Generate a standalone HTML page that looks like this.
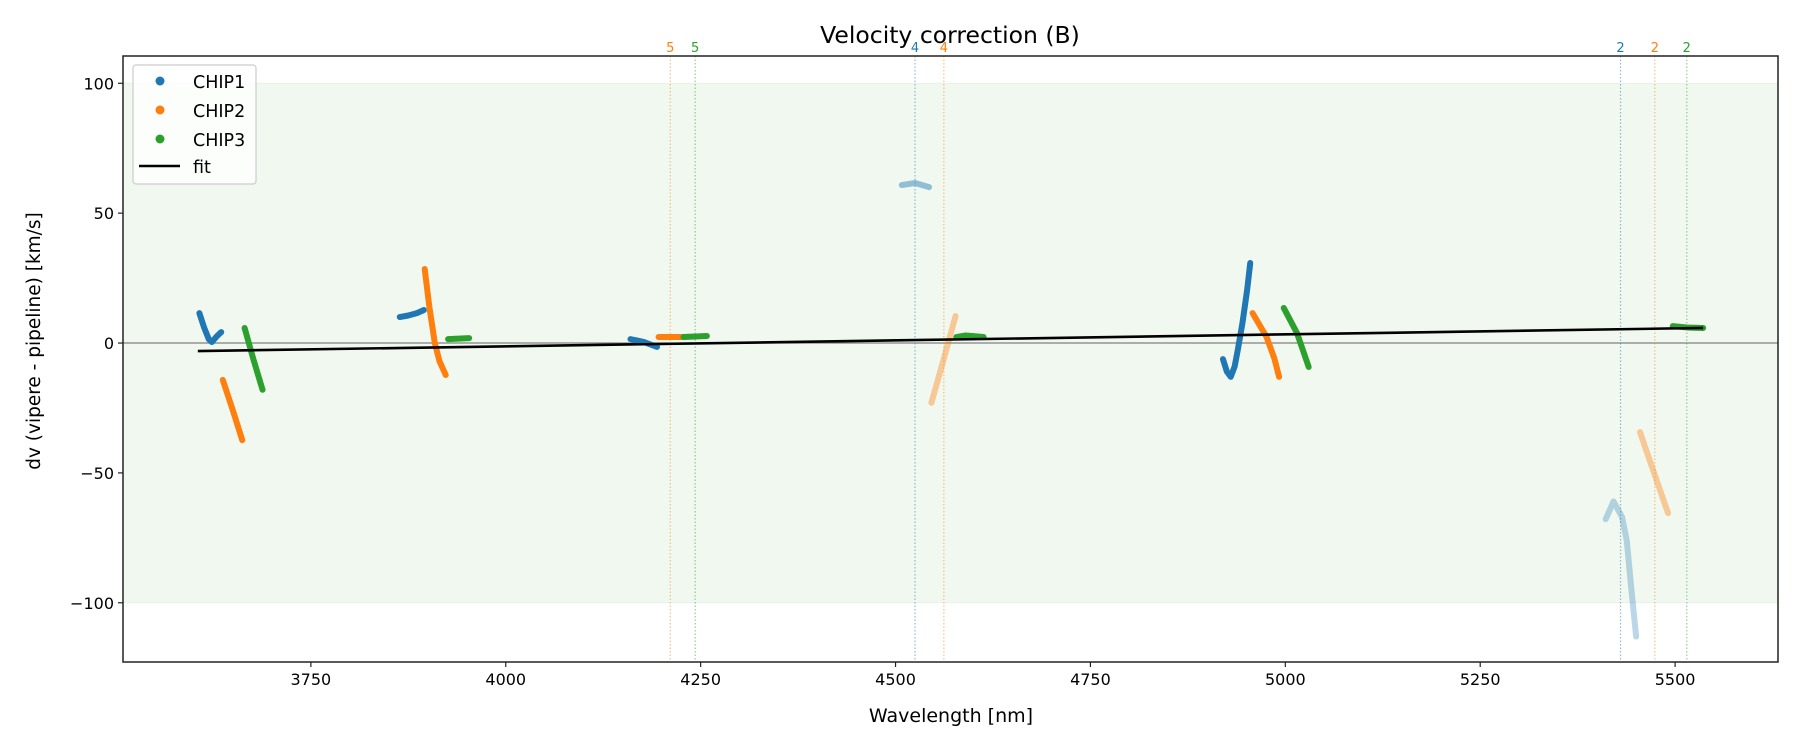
<!DOCTYPE html>
<html><head><meta charset="utf-8"><style>
body{margin:0;background:#fff;width:1800px;height:750px;overflow:hidden}
svg{font-family:"DejaVu Sans","Liberation Sans",sans-serif}
</style></head><body>
<svg id="chart" width="1800" height="750" viewBox="0 0 1800 750" xmlns="http://www.w3.org/2000/svg">
<g id="plot"></g>
</svg>
<script>
// ---- data ----
const xTicks = [3750, 4000, 4250, 4500, 4750, 5000, 5250, 5500];
const yTicks = [-100, -50, 0, 50, 100];
const bandRange = [-100, 100];
const chip1Segments = [
  [[3607,11.5],[3613,6],[3619,1.5],[3623,0.4],[3629,2.5],[3635,4.2]],
  [[3864,10],[3875,10.6],[3886,11.5],[3895,12.7]],
  [[4160,1.5],[4177,0.4],[4194,-1.5]],
  [[4508,60.8],[4525,61.6],[4543,60]],
  [[4920,-6.2],[4925,-11],[4930,-13],[4935,-9],[4939,-2.7],[4945,7.7],[4951,20.4],[4955,30.8]],
  [[5411,-67.8],[5421,-61],[5432,-67],[5438,-76],[5443,-92],[5450,-113]]
];
const chip1Alpha = [1,1,1,0.45,1,0.3];
const chip2Segments = [
  [[3637,-14.2],[3650,-26],[3662,-37.4]],
  [[3896,28.5],[3902,13.9],[3909,0],[3915,-7],[3923,-12.3]],
  [[4196,2.3],[4226,2.3]],
  [[4546,-23],[4562,-6],[4577,10.4]],
  [[4958,11.5],[4976,2.3],[4986,-6],[4992,-13]],
  [[5455,-34.3],[5473,-50],[5491,-65.5]]
];
const chip2Alpha = [1,1,1,0.4,1,0.4];
const chip3Segments = [
  [[3665,5.8],[3676,-6],[3688,-18]],
  [[3926,1.5],[3953,1.9]],
  [[4228,2.3],[4243,2.5],[4258,2.7]],
  [[4578,2.3],[4590,2.9],[4613,2.3]],
  [[4998,13.5],[5015,3.8],[5030,-9.2]],
  [[5497,6.5],[5515,6],[5536,5.8]]
];
const chip3Alpha = [1,1,1,1,1,1];
const fitLine = [[3605,-3.1],[5536,5.8]];
const markerWavelengths = [4211, 4243, 4525, 4562, 5430, 5474, 5515];
const markerLabels = ["5","5","4","4","2","2","2"];
const markerChips = [2,3,1,2,1,2,3];

// ---- layout ----
const L=123,R=1778,T=56,B=662;
const X0=3509,X1=5632,Y0=-122.8,Y1=110.5;
const sx=v=>L+(v-X0)/(X1-X0)*(R-L);
const sy=v=>B-(v-Y0)/(Y1-Y0)*(B-T);
const colors={1:"#1f77b4",2:"#ff7f0e",3:"#2ca02c"};
const NS="http://www.w3.org/2000/svg";
const g=document.getElementById('plot');
function mk(tag,attrs,parent){const e=document.createElementNS(NS,tag);for(const k in attrs)e.setAttribute(k,attrs[k]);(parent||g).appendChild(e);return e;}

const band=mk('rect',{x:L,y:sy(bandRange[1]),width:R-L,height:sy(bandRange[0])-sy(bandRange[1]),fill:"#2ca02c","fill-opacity":0.07,stroke:"#2ca02c","stroke-opacity":0.08});



const zl=mk('line',{x1:L,x2:R,y1:sy(0),y2:sy(0),stroke:"#808080","stroke-width":1.2});



markerWavelengths.forEach((w,i)=>{
  const c=colors[markerChips[i]];
  const ln=mk('line',{x1:sx(w),x2:sx(w),y1:T,y2:B,stroke:c,"stroke-opacity":0.5,"stroke-width":1.2,"stroke-dasharray":"1.5,2"});
  
  
  const t=mk('text',{x:sx(w),y:52,fill:c,"font-size":13,"text-anchor":"middle"});
  t.textContent=markerLabels[i];
  
  
});

function drawChip(segs,alpha,chip){
  segs.forEach((seg,si)=>{
    const grp=mk('g',{opacity:alpha[si]});
    
    
    const pts=seg.map(p=>sx(p[0])+","+sy(p[1])).join(" ");
    const pl=mk('polyline',{points:pts,fill:"none",stroke:colors[chip],"stroke-width":6,"stroke-linecap":"round","stroke-linejoin":"round"},grp);
    
    
  });
}
drawChip(chip1Segments,chip1Alpha,1);
drawChip(chip2Segments,chip2Alpha,2);
drawChip(chip3Segments,chip3Alpha,3);

const fl=mk('line',{x1:sx(fitLine[0][0]),y1:sy(fitLine[0][1]),x2:sx(fitLine[1][0]),y2:sy(fitLine[1][1]),stroke:"#000","stroke-width":2.6});



const frame=mk('rect',{x:L,y:T,width:R-L,height:B-T,fill:"none",stroke:"#222","stroke-width":1.5});



xTicks.forEach(v=>{
  const tk=mk('line',{x1:sx(v),x2:sx(v),y1:B,y2:B+5,stroke:"#222","stroke-width":1.2});
  
  
  const t=mk('text',{x:sx(v),y:B+23,"font-size":16,"text-anchor":"middle",fill:"#000"});
  t.textContent=v;
  
  
});
yTicks.forEach(v=>{
  const tk=mk('line',{x1:L-5,x2:L,y1:sy(v),y2:sy(v),stroke:"#222","stroke-width":1.2});
  
  
  const t=mk('text',{x:L-9,y:sy(v)+6,"font-size":16,"text-anchor":"end",fill:"#000"});
  t.textContent=v===0?"0":(v<0?"\u2212"+(-v):v);
  
  
});
</script>
<svg style="position:absolute;left:0;top:0" width="1800" height="750" xmlns="http://www.w3.org/2000/svg" font-family="DejaVu Sans, Liberation Sans, sans-serif">
<text x="950" y="43" font-size="23.5" text-anchor="middle">Velocity correction (B)</text>
<text x="951" y="722" font-size="19" text-anchor="middle">Wavelength [nm]</text>
<text transform="translate(40,341) rotate(-90)" font-size="18.5" text-anchor="middle">dv (vipere - pipeline) [km/s]</text>
<g>
<rect x="133" y="65" width="123" height="119" rx="3" fill="#fff" fill-opacity="0.8" stroke="#ccc" stroke-width="1.2"/>
<g><circle cx="160" cy="81" r="4.5" fill="#1f77b4"/><text x="193" y="88" font-size="17.5">CHIP1</text></g>
<g><circle cx="160" cy="110" r="4.5" fill="#ff7f0e"/><text x="193" y="117" font-size="17.5">CHIP2</text></g>
<g><circle cx="160" cy="139" r="4.5" fill="#2ca02c"/><text x="193" y="146" font-size="17.5">CHIP3</text></g>
<g><line x1="139" x2="180" y1="166" y2="166" stroke="#000" stroke-width="2.6"/><text x="193" y="173" font-size="17.5">fit</text></g>
</g>
</svg>
</body></html>
